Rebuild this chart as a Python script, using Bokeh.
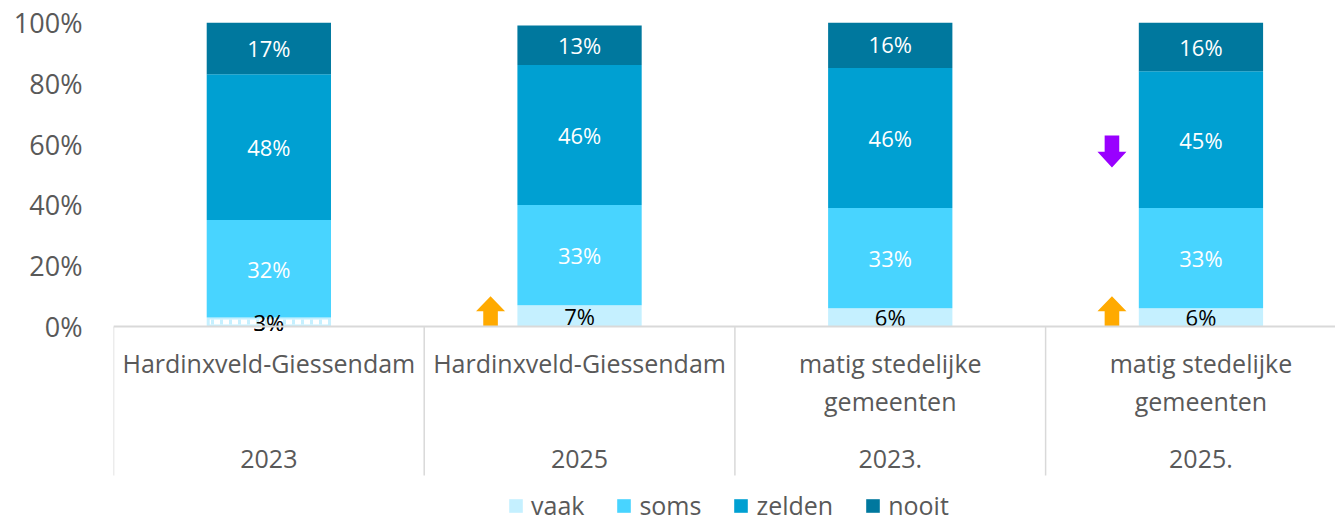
from bokeh.plotting import figure
from bokeh.models import (Range1d, FixedTicker, PrintfTickFormatter, ColumnDataSource,
                          Legend, LegendItem, Span)
from bokeh.embed import file_html
from bokeh.resources import INLINE
from bokeh.core.properties import value

# ---------------- data ----------------
groups = ["Hardinxveld-Giessendam", "Hardinxveld-Giessendam",
          "matig stedelijke\ngemeenten", "matig stedelijke\ngemeenten"]
years = ["2023", "2025", "2023.", "2025."]
series = ["vaak", "soms", "zelden", "nooit"]
vaak = [3, 7, 6, 6]
soms = [32, 33, 33, 33]
zelden = [48, 46, 46, 45]
nooit = [17, 13, 16, 16]
hatched = [True, False, False, False]
y_ticks = [0, 20, 40, 60, 80, 100]

# significance arrows: category index, direction, anchor value (%)
arrow_cat = [1, 3, 3]
arrow_dir = ["up", "up", "down"]
arrow_y = [0, 0, 62.8]
arrow_color = ["#FFAA00", "#FFAA00", "#9900FF"]

# ---------------- style ----------------
colors = ["#C5F0FF", "#48D4FF", "#00A0D2", "#00789E"]
label_colors = ["#000000", "#FFFFFF", "#FFFFFF", "#FFFFFF"]
grey_text = "#595959"
line_grey = "#D9D9D9"
FONT = "Open Sans"

W, H = 1335, 521
LEFT, TOP = 113, 22
frame_w = W - LEFT
frame_h = H - TOP
CAT_PX = 310.7          # pixels per category
Y_PX = 3.04             # pixels per percent
x_end = frame_w / CAT_PX
y_start = 100 - frame_h / Y_PX
BAR_W = 0.4

p = figure(width=W, height=H, x_range=Range1d(0, x_end), y_range=Range1d(y_start, 100),
           output_backend="svg", toolbar_location=None, x_axis_location=None,
           min_border_left=LEFT, min_border_right=0, min_border_top=TOP, min_border_bottom=0)
p.outline_line_color = None
p.xgrid.visible = False
p.ygrid.visible = False
p.background_fill_color = "white"
p.border_fill_color = "white"

ax = p.yaxis[0]
ax.ticker = FixedTicker(ticks=y_ticks)
ax.formatter = PrintfTickFormatter(format="%d%%")
ax.axis_line_color = None
ax.major_tick_line_color = None
ax.minor_tick_line_color = None
ax.major_tick_out = 0
ax.major_tick_in = 0
ax.major_label_standoff = 31
ax.major_label_text_font = FONT
ax.major_label_text_font_size = "27px"
ax.major_label_text_color = grey_text

xs = [i + 0.5 for i in range(len(years))]
vals = [vaak, soms, zelden, nooit]
bottom = [0] * len(years)
renderers = []
for s, v, c, lc in zip(series, vals, colors, label_colors):
    top = [b + x for b, x in zip(bottom, v)]
    src = ColumnDataSource(dict(x=xs, bottom=bottom, top=top,
                                mid=[(b + t) / 2 for b, t in zip(bottom, top)],
                                label=[f"{x}%" for x in v]))
    r = p.vbar(x="x", width=BAR_W, bottom="bottom", top="top", source=src,
               fill_color=c, line_color=None)
    renderers.append(r)
    p.text(x="x", y="mid", text="label", source=src, text_align="center",
           text_baseline="middle", text_font=value(FONT), text_font_size="22px",
           text_color=lc)
    bottom = top

# hatched (dashed) fill for flagged vaak segments
hx = [x for x, h in zip(xs, hatched) if h]
hy = [v / 2 for v, h in zip(vaak, hatched) if h]
p.rect(x=hx, y=hy, width=BAR_W * CAT_PX - 6, height=5, width_units="screen",
       height_units="screen", fill_color="white", line_color=None,
       hatch_pattern="vertical_line", hatch_color=colors[0], hatch_weight=3, hatch_scale=9)
# re-draw vaak labels over hatch
hl = [f"{v}%" for v, h in zip(vaak, hatched) if h]
p.text(x=hx, y=hy, text=hl, text_align="center", text_baseline="middle",
       text_font=value(FONT), text_font_size="22px", text_color=label_colors[0])

# arrows
dx, dy = 1 / CAT_PX, 1 / Y_PX
ARROW_OFF = -89 * dx
up_shape = [(-7.3, 0), (7.3, 0), (7.3, 15.3), (14.5, 15.3), (0, 30.3), (-14.5, 15.3), (-7.3, 15.3)]
axs, ays = [], []
for ci, d, ay in zip(arrow_cat, arrow_dir, arrow_y):
    cx = ci + 0.5 + ARROW_OFF
    sgn = 1 if d == "up" else -1
    shape = up_shape if d == "up" else [(px, py * 32 / 30.3) for px, py in up_shape]
    axs.append([cx + px * dx for px, py in shape])
    ays.append([ay + sgn * py * dy for px, py in shape])
p.patches(xs=axs, ys=ays, fill_color=arrow_color, line_color=None)

# category separators and axis line
p.segment(x0=list(range(len(years))), y0=[0] * len(years),
          x1=list(range(len(years))), y1=[-149 / Y_PX] * len(years),
          line_color=line_grey, line_width=1.5)
p.add_layout(Span(location=0, dimension="width", line_color=line_grey, line_width=2))

# category labels (two levels)
p.text(x=xs, y=[-(345 - 326) / Y_PX] * len(xs), text=groups, text_align="center",
       text_baseline="top", text_line_height=1.12, text_font=value(FONT),
       text_font_size="25px", text_color=grey_text)
p.text(x=xs, y=[-(458 - 326) / Y_PX] * len(xs), text=years, text_align="center",
       text_baseline="middle", text_font=value(FONT), text_font_size="25px",
       text_color=grey_text)

legend = Legend(items=[LegendItem(label=s, renderers=[r]) for s, r in zip(series, renderers)],
                orientation="horizontal", location=(394, -1), glyph_width=17, glyph_height=17,
                label_standoff=7, spacing=31, padding=0, margin=0,
                border_line_color=None, background_fill_alpha=0,
                label_text_font=FONT, label_text_font_size="25px",
                label_text_color=grey_text)
p.add_layout(legend)

open("out.html", "w").write(file_html(p, INLINE))
